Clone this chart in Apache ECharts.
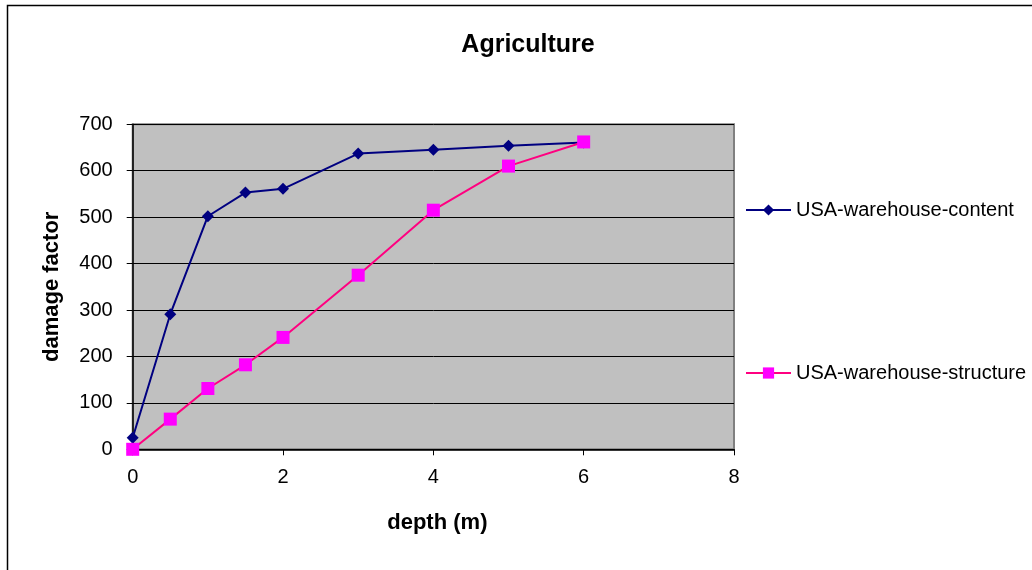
<!DOCTYPE html>
<html><head><meta charset="utf-8">
<script src="https://cdn.jsdelivr.net/npm/echarts@6/dist/echarts.min.js"></script>
<style>html,body{margin:0;padding:0;background:#fff}#c{width:1032px;height:570px}</style>
</head><body><div id="c"></div>
<script>
const depth = [0, 0.5, 1, 1.5, 2, 3, 4, 5, 6];
const contentVals = [25, 291, 502, 553, 561, 637, 645, 654, 661];
const structureVals = [0, 65, 131, 182, 241, 375, 515, 610, 662];
const seriesNames = ['USA-warehouse-content', 'USA-warehouse-structure'];
const titleText = 'Agriculture';
const xName = 'depth (m)';
const yName = 'damage factor';

const font = 'Arial, "Liberation Sans", sans-serif';
const chart = echarts.init(document.getElementById('c'), null, {renderer: 'canvas'});
chart.setOption({
  animation: false,
  backgroundColor: '#fff',
  title: {text: titleText, left: 528, top: 33, textAlign: 'center', padding: 0,
    textStyle: {fontFamily: font, fontSize: 25, fontWeight: 'bold', color: '#000'}},
  grid: {left: 132.7, right: 298, top: 124.3, bottom: 120.7, show: true,
    backgroundColor: '#c0c0c0', borderColor: '#808080', borderWidth: 2},
  legend: {orient: 'vertical', left: 745, top: 200, padding: 0, itemGap: 143, itemWidth: 45, itemHeight: 14,
    textStyle: {fontFamily: font, fontSize: 20, color: '#000'},
    data: seriesNames},
  xAxis: {type: 'value', min: 0, max: 8, interval: 2,
    name: xName, nameLocation: 'middle', nameGap: 63,
    nameTextStyle: {fontFamily: font, fontSize: 22, fontWeight: 'bold', color: '#000', padding: [0, 0, 0, 8]},
    axisLine: {show: true, onZero: false, lineStyle: {color: '#000', width: 1.5}},
    axisTick: {show: true, inside: false, length: 6, lineStyle: {color: '#000'}},
    axisLabel: {fontFamily: font, fontSize: 20, color: '#000', margin: 18},
    splitLine: {show: false}},
  yAxis: {type: 'value', min: 0, max: 700, interval: 100,
    name: yName, nameLocation: 'middle', nameGap: 70,
    nameTextStyle: {fontFamily: font, fontSize: 22, fontWeight: 'bold', color: '#000'},
    axisLine: {show: true, lineStyle: {color: '#000', width: 1.5}},
    axisTick: {show: true, inside: false, length: 6, lineStyle: {color: '#000'}},
    axisLabel: {fontFamily: font, fontSize: 20, color: '#000', margin: 20},
    splitLine: {show: true, lineStyle: {color: '#000', width: 1}}},
  series: [
    {name: seriesNames[0], type: 'line', data: depth.map((d, i) => [d, contentVals[i]]),
      symbol: 'diamond', symbolSize: 12, showAllSymbol: true,
      lineStyle: {color: '#000080', width: 2}, itemStyle: {color: '#000080'}, z: 3},
    {name: seriesNames[1], type: 'line', data: depth.map((d, i) => [d, structureVals[i]]),
      symbol: 'rect', symbolSize: 13, showAllSymbol: true,
      lineStyle: {color: '#ff0080', width: 2}, itemStyle: {color: '#ff00ff'}, z: 4}
  ],
  graphic: [{type: 'rect', shape: {x: 7.5, y: 5.5, width: 1100, height: 700},
    style: {fill: 'none', stroke: '#000', lineWidth: 1.5}, silent: true}]
});
</script></body></html>
